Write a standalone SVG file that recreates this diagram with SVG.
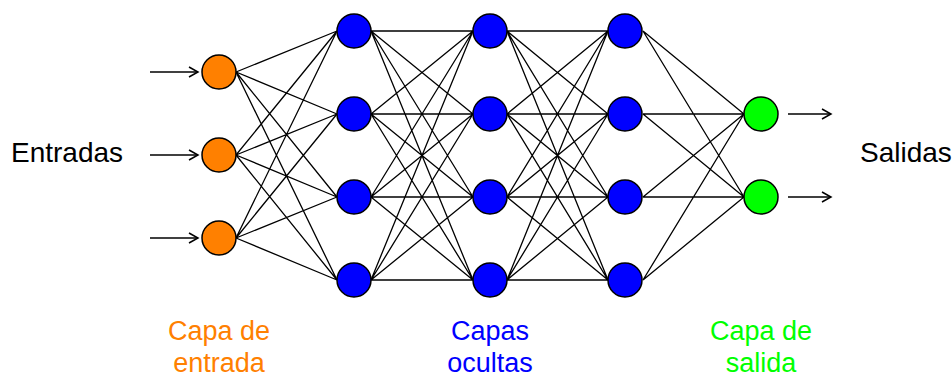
<svg xmlns="http://www.w3.org/2000/svg" width="952" height="379" viewBox="0 0 952 379">
<defs>
<style>
.c{stroke:#000;stroke-width:1.5}
.in{fill:#FF8000}
.hid{fill:#0000FF}
.out{fill:#00FF00}
.e{stroke:#000;stroke-width:1.3;fill:none}
.a{stroke:#000;stroke-width:1.5;fill:none}
text{font-family:"Liberation Sans",Arial,sans-serif;font-size:28px}
.lb{font-size:27px;text-anchor:middle}
</style>
<marker id="ar" markerWidth="12" markerHeight="12" refX="10" refY="6" orient="auto" markerUnits="userSpaceOnUse">
<path d="M1,1 L10,6 L1,11" fill="none" stroke="#000" stroke-width="1.5"/>
</marker>
</defs>
<g id="connectors">
<path class="e" d="M236,72L337,31M236,72L337,114M236,72L337,197M236,72L337,280M236,155L337,31M236,155L337,114M236,155L337,197M236,155L337,280M236,238L337,31M236,238L337,114M236,238L337,197M236,238L337,280"/>
<path class="e" d="M371,31L473,31M371,31L473,114M371,31L473,197M371,31L473,280M371,114L473,31M371,114L473,114M371,114L473,197M371,114L473,280M371,197L473,31M371,197L473,114M371,197L473,197M371,197L473,280M371,280L473,31M371,280L473,114M371,280L473,197M371,280L473,280"/>
<path class="e" d="M507,31L608,31M507,31L608,114M507,31L608,197M507,31L608,280M507,114L608,31M507,114L608,114M507,114L608,197M507,114L608,280M507,197L608,31M507,197L608,114M507,197L608,197M507,197L608,280M507,280L608,31M507,280L608,114M507,280L608,197M507,280L608,280"/>
<path class="e" d="M643,31L744,114M643,114L744,114M643,197L744,114M643,280L744,114M643,31L744,197M643,114L744,197M643,197L744,197M643,280L744,197"/>
<path class="a" d="M150,72H198" marker-end="url(#ar)"/>
<path class="a" d="M150,155H198" marker-end="url(#ar)"/>
<path class="a" d="M150,238H198" marker-end="url(#ar)"/>
<path class="a" d="M788,114H831" marker-end="url(#ar)"/>
<path class="a" d="M788,197H831" marker-end="url(#ar)"/>
</g>
<g id="in1"><circle class="c in" cx="219" cy="72" r="17"/></g>
<g id="in2"><circle class="c in" cx="219" cy="155" r="17"/></g>
<g id="in3"><circle class="c in" cx="219" cy="238" r="17"/></g>
<g id="h1a"><circle class="c hid" cx="354" cy="31" r="17"/></g>
<g id="h1b"><circle class="c hid" cx="354" cy="114" r="17"/></g>
<g id="h1c"><circle class="c hid" cx="354" cy="197" r="17"/></g>
<g id="h1d"><circle class="c hid" cx="354" cy="280" r="17"/></g>
<g id="h2a"><circle class="c hid" cx="490" cy="31" r="17"/></g>
<g id="h2b"><circle class="c hid" cx="490" cy="114" r="17"/></g>
<g id="h2c"><circle class="c hid" cx="490" cy="197" r="17"/></g>
<g id="h2d"><circle class="c hid" cx="490" cy="280" r="17"/></g>
<g id="h3a"><circle class="c hid" cx="625" cy="31" r="17"/></g>
<g id="h3b"><circle class="c hid" cx="625" cy="114" r="17"/></g>
<g id="h3c"><circle class="c hid" cx="625" cy="197" r="17"/></g>
<g id="h3d"><circle class="c hid" cx="625" cy="280" r="17"/></g>
<g id="o1"><circle class="c out" cx="761" cy="114" r="17"/></g>
<g id="o2"><circle class="c out" cx="761" cy="197" r="17"/></g>
<g id="labels">
<text x="11" y="162">Entradas</text>
<text x="860" y="162">Salidas</text>
<text class="lb" x="219" y="340" fill="#FF8000">Capa de</text>
<text class="lb" x="219" y="372" fill="#FF8000">entrada</text>
<text class="lb" x="490" y="340" fill="#0000FF">Capas</text>
<text class="lb" x="490" y="372" fill="#0000FF">ocultas</text>
<text class="lb" x="761" y="340" fill="#00FF00">Capa de</text>
<text class="lb" x="761" y="372" fill="#00FF00">salida</text>
</g>
</svg>
